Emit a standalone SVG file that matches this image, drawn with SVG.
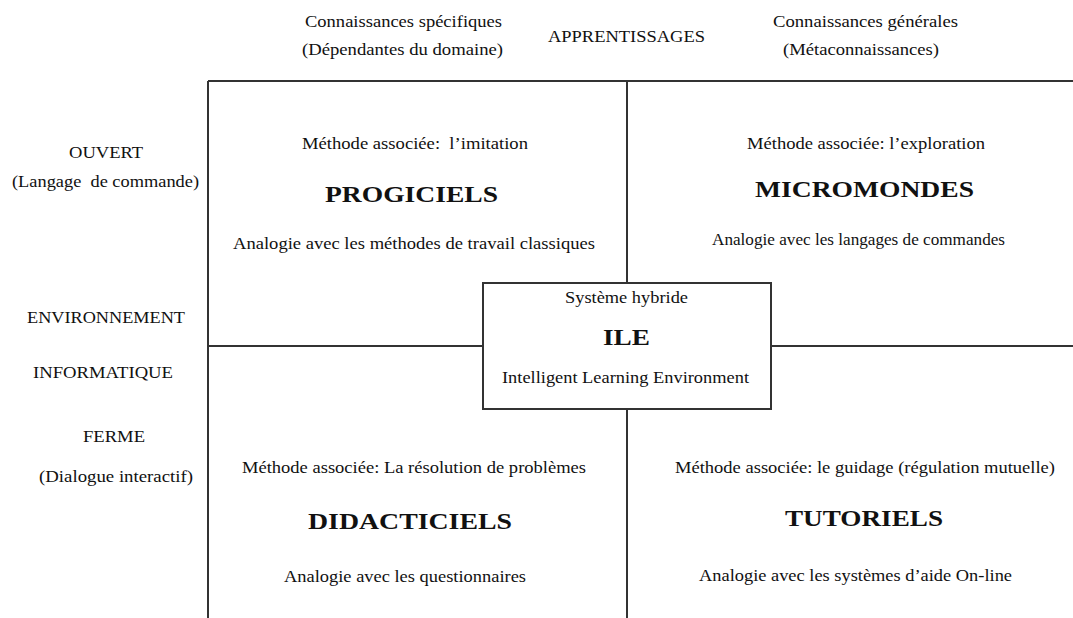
<svg xmlns="http://www.w3.org/2000/svg" width="1073" height="618" viewBox="0 0 1073 618">
<style>
text{font-family:"Liberation Serif","Times New Roman",serif;fill:#111;font-size:17.5px}
.b{font-weight:bold;font-size:23px}
.ln{stroke:#333;stroke-width:2;fill:none}
</style>
<rect width="1073" height="618" fill="#fff"/>
<g id="connectors">
<path class="ln" d="M208 81H1073M208 81V618M627 81V283M627 409V618M208 346H483M771 346H1073"/>
</g>
<g id="axis-top">
<text x="305" y="27" textLength="197" lengthAdjust="spacingAndGlyphs">Connaissances spécifiques</text>
<text x="302" y="55" textLength="201" lengthAdjust="spacingAndGlyphs">(Dépendantes du domaine)</text>
<text x="548" y="42" textLength="157" lengthAdjust="spacingAndGlyphs">APPRENTISSAGES</text>
<text x="773" y="27" textLength="185" lengthAdjust="spacingAndGlyphs">Connaissances générales</text>
<text x="783" y="55" textLength="156" lengthAdjust="spacingAndGlyphs">(Métaconnaissances)</text>
</g>
<g id="axis-left">
<text x="69" y="158" textLength="74" lengthAdjust="spacingAndGlyphs">OUVERT</text>
<text x="12" y="187" textLength="187" lengthAdjust="spacingAndGlyphs" xml:space="preserve">(Langage  de commande)</text>
<text x="27" y="323" textLength="158" lengthAdjust="spacingAndGlyphs">ENVIRONNEMENT</text>
<text x="33" y="378" textLength="140" lengthAdjust="spacingAndGlyphs">INFORMATIQUE</text>
<text x="83" y="442" textLength="62" lengthAdjust="spacingAndGlyphs">FERME</text>
<text x="39" y="482" textLength="154" lengthAdjust="spacingAndGlyphs">(Dialogue interactif)</text>
</g>
<g id="progiciels">
<text x="302" y="149" textLength="226" lengthAdjust="spacingAndGlyphs" xml:space="preserve">Méthode associée:  l’imitation</text>
<text class="b" x="325" y="202" textLength="173" lengthAdjust="spacingAndGlyphs">PROGICIELS</text>
<text x="233" y="249" textLength="362" lengthAdjust="spacingAndGlyphs">Analogie avec les méthodes de travail classiques</text>
</g>
<g id="micromondes">
<text x="747" y="149" textLength="238" lengthAdjust="spacingAndGlyphs">Méthode associée: l’exploration</text>
<text class="b" x="755" y="197" textLength="219" lengthAdjust="spacingAndGlyphs">MICROMONDES</text>
<text x="712" y="245" textLength="293" lengthAdjust="spacingAndGlyphs">Analogie avec les langages de commandes</text>
</g>
<g id="ile">
<rect class="ln" x="483" y="283" width="288" height="126"/>
<text x="565" y="303" textLength="123" lengthAdjust="spacingAndGlyphs">Système hybride</text>
<text class="b" x="603" y="345" textLength="47" lengthAdjust="spacingAndGlyphs">ILE</text>
<text x="502" y="383" textLength="247" lengthAdjust="spacingAndGlyphs">Intelligent Learning Environment</text>
</g>
<g id="didacticiels">
<text x="242" y="473" textLength="344" lengthAdjust="spacingAndGlyphs">Méthode associée: La résolution de problèmes</text>
<text class="b" x="308" y="529" textLength="204" lengthAdjust="spacingAndGlyphs">DIDACTICIELS</text>
<text x="284" y="582" textLength="242" lengthAdjust="spacingAndGlyphs">Analogie avec les questionnaires</text>
</g>
<g id="tutoriels">
<text x="675" y="473" textLength="380" lengthAdjust="spacingAndGlyphs">Méthode associée: le guidage (régulation mutuelle)</text>
<text class="b" x="785" y="526" textLength="158" lengthAdjust="spacingAndGlyphs">TUTORIELS</text>
<text x="699" y="581" textLength="313" lengthAdjust="spacingAndGlyphs">Analogie avec les systèmes d’aide On-line</text>
</g>
</svg>
